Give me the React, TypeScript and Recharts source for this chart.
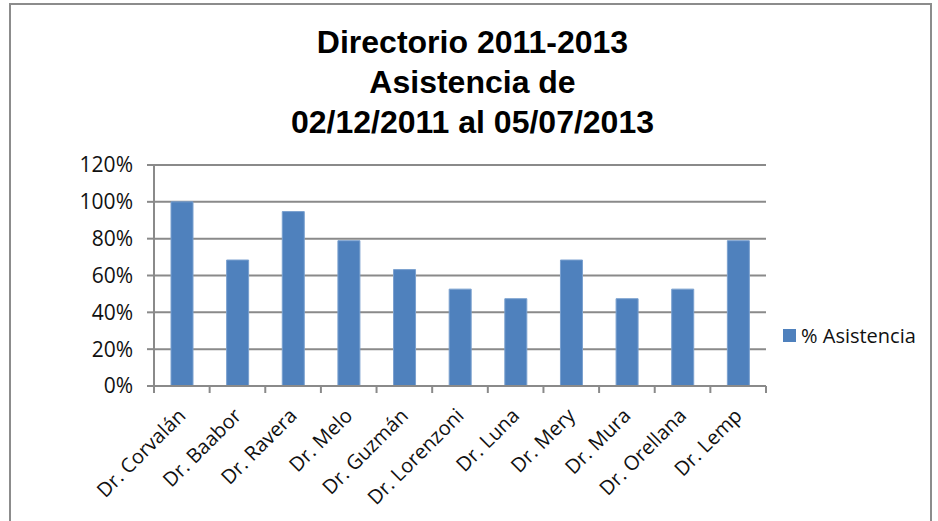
import { BarChart, Bar, XAxis, YAxis, CartesianGrid } from 'recharts';

// Directorio 2011-2013 — asistencia por director
const doctors = [
  'Dr. Corvalán', 'Dr. Baabor', 'Dr. Ravera', 'Dr. Melo', 'Dr. Guzmán', 'Dr. Lorenzoni',
  'Dr. Luna', 'Dr. Mery', 'Dr. Mura', 'Dr. Orellana', 'Dr. Lemp',
];
const asistencia = [1.0, 0.684, 0.947, 0.789, 0.632, 0.526, 0.474, 0.684, 0.474, 0.526, 0.789];
const yTicks = [0, 0.2, 0.4, 0.6, 0.8, 1.0, 1.2];
const seriesName = '% Asistencia';
const titleLines = ['Directorio 2011-2013', 'Asistencia de', '02/12/2011 al 05/07/2013'];

const data = doctors.map((name, i) => ({ name, value: asistencia[i] }));

const W = 938;
const H = 521;
const MARGIN = { top: 165, right: 172, bottom: 15, left: 74 };
const Y_AXIS_W = 80;
const X_AXIS_H = 120;
const PLOT_W = W - MARGIN.left - MARGIN.right - Y_AXIS_W;
const BAND = PLOT_W / doctors.length;

const GRID = '#8a8a8a';
const BLUE = '#4F81BD';
const FONT = '"Open Sans", "Noto Sans", sans-serif';

function pct(v: number) {
  return `${Math.round(v * 100)}%`;
}

function XTick(props: any) {
  const { x, y, payload, index } = props;
  const half = BAND / 2;
  const tx = x + 5;
  const ty = y + 31;
  return (
    <g>
      <line x1={x - half} x2={x - half} y1={y} y2={y + 7} stroke={GRID} strokeWidth={2} />
      {index === doctors.length - 1 && (
        <line x1={x + half} x2={x + half} y1={y} y2={y + 7} stroke={GRID} strokeWidth={2} />
      )}
      <text
        x={tx}
        y={ty}
        textAnchor="end"
        transform={`rotate(-45, ${tx}, ${ty})`}
        fontSize={20}
        fontFamily={FONT}
        fill="#111"
      >
        {payload.value}
      </text>
    </g>
  );
}

export default function App() {
  return (
    <div style={{ position: 'absolute', left: 0, top: 0, width: W, height: H, overflow: 'hidden', background: '#fff' }}>
      <div
        style={{
          position: 'absolute', left: 9, top: 3, width: 923, height: 540,
          border: '2px solid #8c8c8c', boxSizing: 'border-box',
        }}
      />
      <div
        style={{
          position: 'absolute', left: 9, top: 22, width: 927, textAlign: 'center',
          fontFamily: '"Liberation Sans", Arial, sans-serif', fontWeight: 'bold', fontSize: 32,
          lineHeight: '40px', color: '#000',
        }}
      >
        {titleLines.map((t) => (
          <div key={t}>{t}</div>
        ))}
      </div>
      <BarChart width={W} height={H} data={data} margin={MARGIN} barSize={22} style={{ position: 'absolute', left: 0, top: 0 }}>
        <CartesianGrid vertical={false} stroke={GRID} strokeWidth={2} />
        <XAxis
          dataKey="name"
          interval={0}
          height={X_AXIS_H}
          tickLine={false}
          tickSize={0}
          tickMargin={0}
          axisLine={{ stroke: GRID, strokeWidth: 2 }}
          tick={<XTick />}
        />
        <YAxis
          domain={[0, 1.2]}
          ticks={yTicks}
          tickFormatter={pct}
          width={Y_AXIS_W}
          tickSize={7}
          tickMargin={14}
          axisLine={{ stroke: GRID, strokeWidth: 2 }}
          tickLine={{ stroke: GRID, strokeWidth: 2 }}
          tick={{ fontSize: 21, fontFamily: FONT, fill: '#111' }}
        />
        <Bar dataKey="value" name={seriesName} fill={BLUE} stroke="#7aa0cf" strokeWidth={1} isAnimationActive={false} />
      </BarChart>
      <div
        style={{
          position: 'absolute', left: 783, top: 322, display: 'flex', alignItems: 'center',
          fontFamily: FONT, fontSize: 20, color: '#111',
        }}
      >
        <span style={{ width: 13, height: 13, background: BLUE, display: 'inline-block', marginRight: 5 }} />
        <span>{seriesName}</span>
      </div>
    </div>
  );
}
